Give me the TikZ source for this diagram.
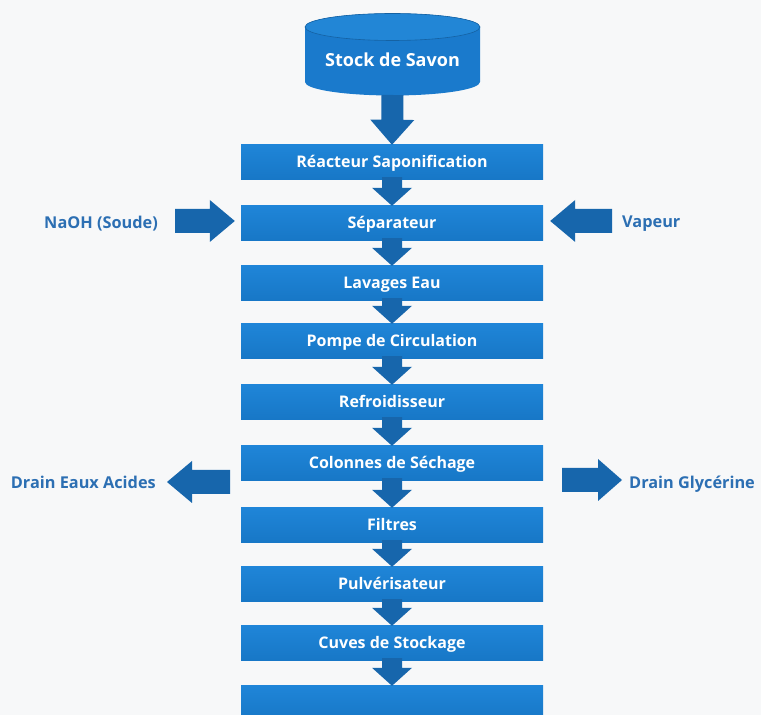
\documentclass[tikz,border=0pt]{standalone}
\usepackage{fontspec}
\setmainfont{Open Sans}
\usetikzlibrary{calc}

\definecolor{bgcol}{HTML}{F7F8F9}
\definecolor{boxtop}{HTML}{1F85D8}
\definecolor{boxbot}{HTML}{1777C6}
\definecolor{arrowblue}{HTML}{1766AC}
\definecolor{labelblue}{HTML}{2C6FB3}
\definecolor{cylcol}{HTML}{1A7ACC}
\definecolor{cyltop}{HTML}{2286D6}

\tikzset{
  stepbox/.style={rectangle, minimum width=302pt, minimum height=35pt,
    inner sep=0pt, text height=10pt, text depth=0pt,
    top color=boxtop, bottom color=boxbot, text=white,
    font=\fontsize{16}{19}\selectfont\bfseries},
  sidelabel/.style={text=labelblue, inner sep=0pt,
    font=\fontsize{16.3}{19}\selectfont\bfseries},
}

% fat block arrow: #1 tail, #2 tip, #3 stem half-width, #4 head half-width, #5 head length
\newcommand\fatarrow[5]{%
  \coordinate (hb) at ($(#2)!#5!(#1)$);
  \fill[arrowblue] ($(#1)!#3!90:(#2)$) -- ($(hb)!#3!-90:(#1)$) -- ($(hb)!#4!-90:(#1)$)
    -- (#2) -- ($(hb)!#4!90:(#1)$) -- ($(hb)!#3!90:(#1)$) -- ($(#1)!#3!-90:(#2)$) -- cycle;}

% arrow between two stacked process boxes
\newcommand\flowdown[2]{%
  \coordinate (ft) at ($(#1.south)+(0,3)$);
  \fatarrow{ft}{#2.north}{10pt}{20pt}{18pt}}

\begin{document}
\begin{tikzpicture}[x=1pt, y=1pt]
  \fill[bgcol] (0,0) rectangle (761,715);
  \useasboundingbox (0,0) rectangle (761,715);

  % storage tank
  \fill[cylcol] (305,688) -- (305,633) arc[start angle=180, end angle=360, x radius=87.5, y radius=13.5]
    -- (480,688) arc[start angle=0, end angle=180, x radius=87.5, y radius=13.5] -- cycle;
  \fill[cyltop] (392.5,688) ellipse[x radius=87.5, y radius=13.5];
  \draw[cylcol!80!black, line width=0.6pt] (392.5,688) ellipse[x radius=87.5, y radius=13.5];
  \node[text=white, font=\fontsize{18}{21}\selectfont\bfseries] (stock) at (392.5,655) {Stock de Savon};
  \coordinate (stockbase) at (392.5,620);

  % process chain
  \node[stepbox] (reac)  at (392,552.5) {Réacteur Saponification};
  \node[stepbox] (sep)   at (392,491.5) {Séparateur};
  \node[stepbox] (lav)   at (392,431.5) {Lavages Eau};
  \node[stepbox] (pompe) at (392,373.5) {Pompe de Circulation};
  \node[stepbox] (refr)  at (392,312.5) {Refroidisseur};
  \node[stepbox] (col)   at (392,251.5) {Colonnes de Séchage};
  \node[stepbox] (filt)  at (392,189.5) {Filtres};
  \node[stepbox] (pulv)  at (392,130.5) {Pulvérisateur};
  \node[stepbox] (cuves) at (392,71.5)  {Cuves de Stockage};
  \node[stepbox] (last)  at (392,11.5)  {};

  \fatarrow{stockbase}{reac.north}{11pt}{22pt}{25pt}
  \flowdown{reac}{sep}
  \flowdown{sep}{lav}
  \flowdown{lav}{pompe}
  \flowdown{pompe}{refr}
  \flowdown{refr}{col}
  \flowdown{col}{filt}
  \flowdown{filt}{pulv}
  \flowdown{pulv}{cuves}
  \flowdown{cuves}{last}

  % side inputs
  \node[sidelabel, anchor=east] (naoh) at (158,491) {NaOH (Soude)};
  \node[sidelabel, anchor=west] (vap)  at (622,491) {Vapeur};
  \coordinate (naohT) at (175,494);
  \coordinate (naohH) at ($(sep.west)+(-6,2.5)$);
  \fatarrow{naohT}{naohH}{12pt}{21pt}{25pt}
  \coordinate (vapT) at (612,494);
  \coordinate (vapH) at ($(sep.east)+(7,2.5)$);
  \fatarrow{vapT}{vapH}{12pt}{21pt}{25pt}

  % side outputs
  \node[sidelabel, anchor=east] (acid) at (156,233) {Drain Eaux Acides};
  \node[sidelabel, anchor=west] (glyc) at (629,231) {Drain Glycérine};
  \coordinate (acidT) at (230,233);
  \coordinate (acidH) at (167,233);
  \fatarrow{acidT}{acidH}{12pt}{21pt}{25pt}
  \coordinate (glycT) at (562,235);
  \coordinate (glycH) at (622,235);
  \fatarrow{glycT}{glycH}{12pt}{21pt}{24pt}
\end{tikzpicture}
\end{document}
